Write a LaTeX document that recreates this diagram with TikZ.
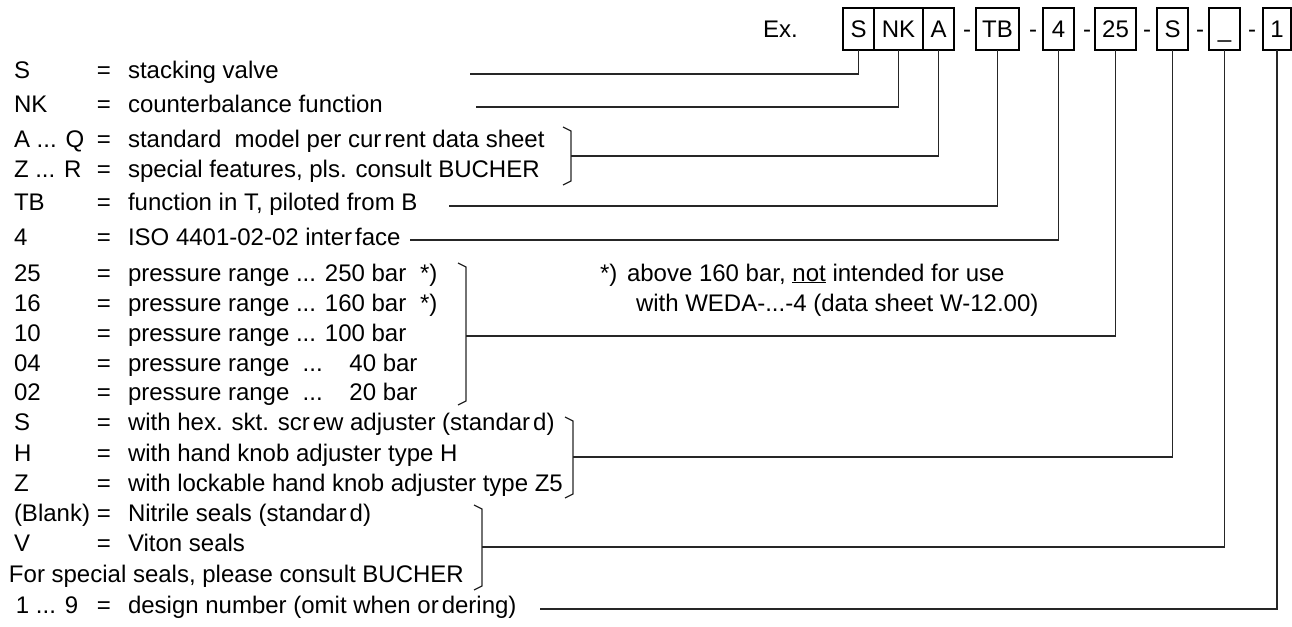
\documentclass[tikz,border=0pt]{standalone}
\usepackage{fontspec}
\setmainfont{Liberation Sans}
\begin{document}
\begin{tikzpicture}[x=1pt,y=-1pt,
  every node/.style={font=\fontsize{24}{28}\selectfont, inner sep=0pt, outer sep=0pt},
  lbl/.style={anchor=base west},
  eqs/.style={anchor=base},
  codebox/.style={draw, line width=1.2pt, minimum height=42pt, anchor=north west, text height=17.2pt, text depth=0pt},
  conn/.style={draw=black!85, line width=1.2pt}]
\useasboundingbox (0,0) rectangle (1292,626);
% code boxes
\node[lbl] (ex) at (763,37.6) {Ex.};
\node[codebox, minimum width=31pt] (bS) at (843,8) {S};
\node[codebox, minimum width=49pt] (bNK) at (874,8) {NK};
\node[codebox, minimum width=31pt] (bA) at (923,8) {A};
\node[eqs] (d1) at (967,37.6) {-};
\node[codebox, minimum width=43pt] (bTB) at (976,8) {TB};
\node[eqs] (d2) at (1033,37.6) {-};
\node[codebox, minimum width=31pt] (b4) at (1043,8) {4};
\node[eqs] (d3) at (1087,37.6) {-};
\node[codebox, minimum width=41pt] (b25) at (1095,8) {25};
\node[eqs] (d4) at (1147,37.6) {-};
\node[codebox, minimum width=31pt] (bS2) at (1157,8) {S};
\node[eqs] (d5) at (1200,37.6) {-};
\node[codebox, minimum width=31pt] (bU) at (1209,8) {\_};
\node[eqs] (d6) at (1252,37.6) {-};
\node[codebox, minimum width=28pt] (b1) at (1263,8) {1};
% rows
\node[lbl] (c1) at (14,78) {S};
\node[eqs] (e1) at (104,78) {=};
\node[lbl] (t1) at (128,78) {stacking valve};
\node[lbl] (c2) at (14,112) {NK};
\node[eqs] (e2) at (104,112) {=};
\node[lbl] (t2) at (128,112) {counterbalance function};
\node[lbl] (c3) at (14,147) {A ... Q};
\node[eqs] (e3) at (104,147) {=};
\node[lbl] (t3) at (128,147) {standard\ \ model per cur\hspace{3pt}rent data sheet};
\node[lbl] (c4) at (14,177) {Z ... R};
\node[eqs] (e4) at (104,177) {=};
\node[lbl] (t4) at (128,177) {special features, pls. consult BUCHER};
\node[lbl] (c5) at (14,210) {TB};
\node[eqs] (e5) at (104,210) {=};
\node[lbl] (t5) at (128,210) {function in T, piloted from B};
\node[lbl] (c6) at (14,245) {4};
\node[eqs] (e6) at (104,245) {=};
\node[lbl] (t6) at (128,245) {ISO 4401-02-02 inter\hspace{3pt}face};
\node[lbl] (c7) at (14,281) {25};
\node[eqs] (e7) at (104,281) {=};
\node[lbl] (t7) at (128,281) {pressure range ... 250 bar};
\node[lbl] (s7) at (420,281) {*)};
\node[lbl] (c8) at (14,311) {16};
\node[eqs] (e8) at (104,311) {=};
\node[lbl] (t8) at (128,311) {pressure range ... 160 bar};
\node[lbl] (s8) at (420,311) {*)};
\node[lbl] (c9) at (14,341) {10};
\node[eqs] (e9) at (104,341) {=};
\node[lbl] (t9) at (128,341) {pressure range ... 100 bar};
\node[lbl] (c10) at (14,371) {04};
\node[eqs] (e10) at (104,371) {=};
\node[lbl] (t10) at (128,371) {pressure range\ \ ...\ \ \hphantom{0}40 bar};
\node[lbl] (c11) at (14,400) {02};
\node[eqs] (e11) at (104,400) {=};
\node[lbl] (t11) at (128,400) {pressure range\ \ ...\ \ \hphantom{0}20 bar};
\node[lbl] (c12) at (14,430) {S};
\node[eqs] (e12) at (104,430) {=};
\node[lbl] (t12) at (128,430) {with hex. skt. scr\hspace{3pt}ew adjuster (standar\hspace{3pt}d)};
\node[lbl] (c13) at (14,461) {H};
\node[eqs] (e13) at (104,461) {=};
\node[lbl] (t13) at (128,461) {with hand knob adjuster type H};
\node[lbl] (c14) at (14,491) {Z};
\node[eqs] (e14) at (104,491) {=};
\node[lbl] (t14) at (128,491) {with lockable hand knob adjuster type Z5};
\node[lbl] (c15) at (14,521) {(Blank)};
\node[eqs] (e15) at (104,521) {=};
\node[lbl] (t15) at (128,521) {Nitrile seals (standar\hspace{3pt}d)};
\node[lbl] (c16) at (14,551) {V};
\node[eqs] (e16) at (104,551) {=};
\node[lbl] (t16) at (128,551) {Viton seals};
\node[lbl] (c17) at (9,582) {For special seals, please consult BUCHER};
\node[lbl] (c18) at (16,613) {1 ... 9};
\node[eqs] (e18) at (104,613) {=};
\node[lbl] (t18) at (128,613) {design number (omit when or\hspace{3pt}dering)};
% footnote
\node[lbl] (f0) at (600,281) {*)};
\node[lbl] (f1) at (627,281) {above 160 bar, \underline{not} intended for use};
\node[lbl] (f2) at (636,311) {with WEDA-...-4 (data sheet W-12.00)};
% connectors
\coordinate (l1) at (470,74);
\draw[conn] (l1) -| (bS.south);
\coordinate (l2) at (476,107);
\draw[conn] (l2) -| (bNK.south);
\draw[conn] (563,127) -- (571,131) -- (571,181) -- (563,185);
\coordinate (l3) at (571,156);
\draw[conn] (l3) -| (bA.south);
\coordinate (l5) at (449,206);
\draw[conn] (l5) -| (bTB.south);
\coordinate (l6) at (410,240);
\draw[conn] (l6) -| (b4.south);
\draw[conn] (458,263) -- (466,267) -- (466,401) -- (458,405);
\coordinate (l7) at (466,336);
\draw[conn] (l7) -| (b25.south);
\draw[conn] (565,417) -- (573,421) -- (573,494) -- (565,498);
\coordinate (l12) at (573,457);
\draw[conn] (l12) -| (bS2.south);
\draw[conn] (474,505) -- (482,509) -- (482,586) -- (474,590);
\coordinate (l15) at (482,547);
\draw[conn] (l15) -| (bU.south);
\coordinate (l18) at (540,609);
\draw[conn] (l18) -| (b1.south);
\end{tikzpicture}
\end{document}
